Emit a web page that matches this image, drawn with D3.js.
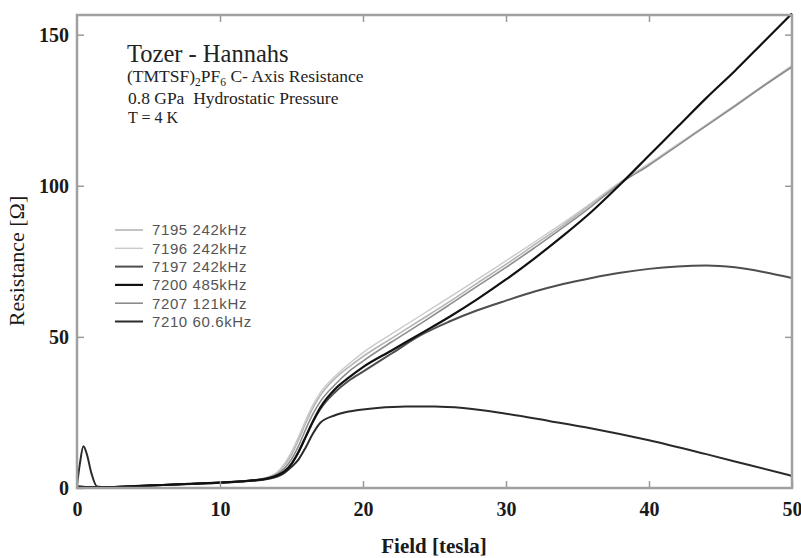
<!DOCTYPE html>
<html lang="en">

<head>
    <meta charset="utf-8">
    <script src="https://d3js.org/d3.v7.min.js"></script>
    <title>Tozer - Hannahs</title>
    <style>
        body {
            margin: 0;
            padding: 0;
            background: #fff;
        }

        .tick text {
            font-family: "Liberation Serif", serif;
            font-weight: bold;
            font-size: 20px;
            fill: #1a1a1a;
        }

        .tick line {
            stroke: #9a9a9a;
            stroke-width: 1.5;
        }
    </style>
</head>

<body>
    <svg id="chart" width="801" height="558"></svg>
    <script>

        // ---- data ----
        var xTicks = [0, 10, 20, 30, 40, 50];
        var yTicks = [0, 50, 100, 150];

        var runNames = ["7195 242kHz", "7196 242kHz", "7197 242kHz", "7200 485kHz", "7207 121kHz", "7210 60.6kHz"];
        var runColors = ["#b4b4b4", "#cacaca", "#4e4e4e", "#111111", "#8c8c8c", "#2a2a2a"];
        var runWidths = [1.6, 1.4, 2, 2.2, 1.6, 2];

        // 7195 (light, ends ~140)
        var field7195 = [0, 1, 2, 4, 6, 8, 10, 12, 13, 13.5, 14, 14.5, 15, 15.5, 16, 16.5, 17, 18, 19, 20, 22, 24, 26, 28, 30, 32, 34, 36, 38, 40, 42, 44, 46, 48, 50];
        var res7195 = [0.5, 0.3, 0.3, 0.6, 1, 1.4, 1.9, 2.5, 3.1, 3.8, 5, 7.5, 11, 16, 21.5, 26.5, 30.5, 36, 40, 43.5, 49.5, 55.5, 61.5, 67.8, 74, 80.5, 87, 94, 101, 107, 113.5, 120, 126.5, 133, 139.5];
        // 7196 (lighter, follows 7195)
        var field7196 = [0, 1, 2, 4, 6, 8, 10, 12, 13, 13.5, 14, 14.5, 15, 15.5, 16, 16.5, 17, 18, 19, 20, 22, 24, 26, 28, 30, 32, 34, 36, 38, 40, 42, 44, 46, 48, 50];
        var res7196 = [0.5, 0.3, 0.3, 0.6, 1, 1.4, 1.9, 2.5, 3.1, 3.9, 5.3, 8, 12, 17, 22.5, 27.5, 31.5, 36.8, 41, 44.8, 51, 57, 63, 69, 75.2, 81.4, 87.7, 94.4, 101.3, 107.3, 113.7, 120.2, 126.6, 133.2, 139.8];
        // 7197 (dark grey, bends over to ~70)
        var field7197 = [0, 1, 2, 4, 6, 8, 10, 12, 13, 13.5, 14, 14.5, 15, 15.5, 16, 16.5, 17, 18, 19, 20, 22, 24, 26, 28, 30, 32, 34, 36, 38, 40, 42, 44, 46, 48, 50];
        var res7197 = [0.5, 0.3, 0.3, 0.6, 1, 1.4, 1.8, 2.4, 2.9, 3.4, 4.2, 5.5, 8, 12, 17, 22, 26, 31.5, 35.5, 38.5, 44.5, 50.5, 55, 58.8, 62, 65, 67.5, 69.5, 71.2, 72.5, 73.3, 73.6, 73, 71.5, 69.5];
        // 7200 (black, steepest, ends ~157)
        var field7200 = [0, 1, 2, 4, 6, 8, 10, 12, 13, 13.5, 14, 14.5, 15, 15.5, 16, 16.5, 17, 18, 19, 20, 22, 24, 26, 28, 30, 32, 34, 36, 38, 40, 42, 44, 46, 48, 50];
        var res7200 = [0.5, 0.3, 0.3, 0.6, 1, 1.4, 1.8, 2.4, 2.9, 3.4, 4.2, 5.5, 8, 12, 17, 22, 26.5, 32.5, 36.5, 40, 45.5, 51, 56.5, 62.5, 69, 76, 83.5, 91.5, 100.5, 110, 119.5, 129, 138, 147.5, 157];
        // 7207 (mid grey, close to 7195)
        var field7207 = [0, 1, 2, 4, 6, 8, 10, 12, 13, 13.5, 14, 14.5, 15, 15.5, 16, 16.5, 17, 18, 19, 20, 22, 24, 26, 28, 30, 32, 34, 36, 38, 40, 42, 44, 46, 48, 50];
        var res7207 = [0.5, 0.3, 0.3, 0.6, 1, 1.4, 1.9, 2.5, 3, 3.6, 4.6, 6.5, 9.5, 14, 19.5, 24.5, 28.5, 34, 38.5, 42, 48.3, 54.3, 60.5, 66.8, 73, 79.5, 86.2, 93.3, 100.8, 106.8, 113.3, 119.8, 126.3, 133, 139.3];
        // 7210 (dark, low-field bump, peak ~27 then falls to ~4)
        var field7210 = [0, 0.2, 0.45, 0.7, 1, 1.4, 2, 4, 6, 8, 10, 12, 13, 13.5, 14, 14.5, 15, 15.5, 16, 16.5, 17, 18, 19, 20, 21, 23, 25, 27, 30, 33, 36, 40, 44, 47, 50];
        var res7210 = [1, 8, 13.8, 11, 5, 0.5, 0.3, 0.6, 1, 1.3, 1.7, 2.3, 2.7, 3.1, 3.8, 5, 7, 9.5, 13.5, 18, 21.5, 24, 25.3, 26, 26.5, 27, 27, 26.5, 24.6, 22.2, 19.7, 15.8, 11.2, 7.6, 4];

        var runFields = [field7195, field7196, field7197, field7200, field7207, field7210];
        var runRes = [res7195, res7196, res7197, res7200, res7207, res7210];

        // ---- svg and scales ----
        var svg = d3.select("#chart");

        var x = d3.scaleLinear().domain([0, 50]).range([77, 792]);
        var y = d3.scaleLinear().domain([0, 156.5]).range([488, 15]);

        var line = d3.line()
            .x(function (d) { return x(d[0]); })
            .y(function (d) { return y(d[1]); })
            .curve(d3.curveMonotoneX);

        // curves (draw light ones first)
        var order = [0, 1, 4, 2, 5, 3];
        svg.append("g")
            .selectAll("path")
            .data(order)
            .enter()
            .append("path")
            .attr("fill", "none")
            .attr("stroke", function (i) { return runColors[i]; })
            .attr("stroke-width", function (i) { return runWidths[i]; })
            .attr("stroke-linejoin", "round")
            .attr("d", function (i) {
                return line(d3.zip(runFields[i], runRes[i]));
            });

        // axes with inward ticks, mirrored on top and right
        svg.append("g")
            .attr("transform", "translate(0," + y(0) + ")")
            .call(d3.axisBottom(x).tickValues(xTicks).tickSizeInner(-7).tickSizeOuter(0).tickPadding(14))
            .call(function (g) { g.select(".domain").remove(); })
            .selectAll("text").attr("dy", "0.72em");

        svg.append("g")
            .attr("transform", "translate(0," + y.range()[1] + ")")
            .call(d3.axisTop(x).tickValues(xTicks.slice(1, 5)).tickSizeInner(-7).tickSizeOuter(0).tickFormat(""))
            .call(function (g) { g.select(".domain").remove(); });

        svg.append("g")
            .attr("transform", "translate(" + x(0) + ",0)")
            .call(d3.axisLeft(y).tickValues(yTicks).tickSizeInner(-7).tickSizeOuter(0).tickPadding(8))
            .call(function (g) { g.select(".domain").remove(); });

        svg.append("g")
            .attr("transform", "translate(" + x(50) + ",0)")
            .call(d3.axisRight(y).tickValues(yTicks.slice(1)).tickSizeInner(-7).tickSizeOuter(0).tickFormat(""))
            .call(function (g) { g.select(".domain").remove(); });

        // frame
        svg.append("rect")
            .attr("x", x(0))
            .attr("y", y.range()[1])
            .attr("width", x(50) - x(0))
            .attr("height", y(0) - y.range()[1])
            .attr("fill", "none")
            .attr("stroke", "#a0a0a0")
            .attr("stroke-width", 2.5);

        // axis titles
        svg.append("text")
            .attr("x", 434)
            .attr("y", 553)
            .attr("text-anchor", "middle")
            .style("font-family", "Liberation Serif, serif")
            .style("font-weight", "bold")
            .style("font-size", "21px")
            .style("fill", "#1a1a1a")
            .text("Field [tesla]");

        svg.append("text")
            .attr("transform", "translate(24,261) rotate(-90)")
            .attr("text-anchor", "middle")
            .style("font-family", "Liberation Serif, serif")
            .style("font-size", "22px")
            .style("fill", "#1a1a1a")
            .text("Resistance [\u03A9]");

        // annotation
        var note = svg.append("g")
            .style("font-family", "Liberation Serif, serif")
            .style("fill", "#222");

        note.append("text").attr("x", 127).attr("y", 62).style("font-size", "24.5px").text("Tozer - Hannahs");

        var t2 = note.append("text").attr("x", 127).attr("y", 82).style("font-size", "17.5px");
        t2.append("tspan").text("(TMTSF)");
        t2.append("tspan").attr("dy", 4).style("font-size", "11.5px").text("2");
        t2.append("tspan").attr("dy", -4).text("PF");
        t2.append("tspan").attr("dy", 4).style("font-size", "11.5px").text("6");
        t2.append("tspan").attr("dy", -4).text(" C- Axis Resistance");

        note.append("text").attr("x", 128).attr("y", 104).style("font-size", "17.5px")
            .text("0.8 GPa\u00A0\u00A0Hydrostatic Pressure");
        note.append("text").attr("x", 128).attr("y", 123).style("font-size", "16px").text("T = 4 K");

        // legend
        var legend = svg.append("g")
            .selectAll("g")
            .data(runNames)
            .enter()
            .append("g")
            .attr("transform", function (d, i) { return "translate(0," + (230 + i * 18.3) + ")"; });

        legend.append("line")
            .attr("x1", 115)
            .attr("x2", 143)
            .attr("stroke", function (d, i) { return runColors[i]; })
            .attr("stroke-width", function (d, i) { return runWidths[i]; });

        legend.append("text")
            .attr("x", 152)
            .attr("dy", "0.36em")
            .style("font-family", "Liberation Sans, Arial, sans-serif")
            .style("font-size", "15px")
            .style("letter-spacing", "0.6px")
            .style("fill", "#555")
            .text(function (d) { return d; });

    </script>
</body>

</html>
